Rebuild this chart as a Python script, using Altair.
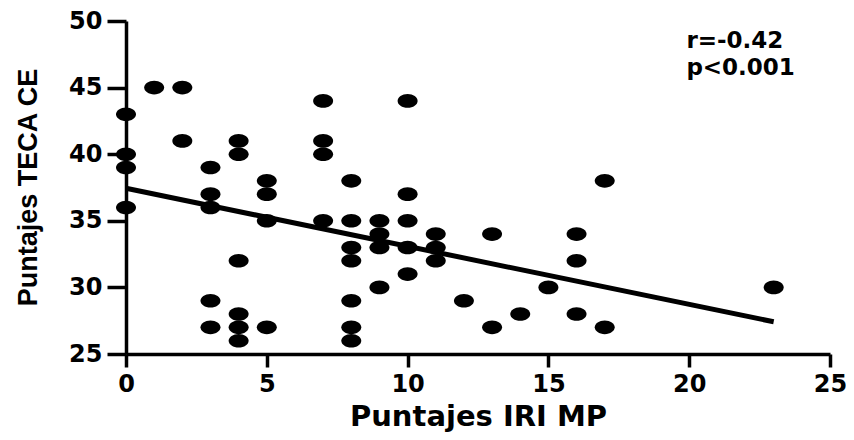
import altair as alt
import pandas as pd

# Scatter data (Puntajes IRI MP vs Puntajes TECA CE)
x_vals = [0, 0, 0, 0, 1, 2, 2, 3, 3, 3, 3, 3, 4, 4, 4, 4, 4, 4, 5, 5, 5, 5,
          7, 7, 7, 7, 8, 8, 8, 8, 8, 8, 8, 9, 9, 9, 9, 10, 10, 10, 10, 10,
          11, 11, 11, 12, 13, 13, 14, 15, 16, 16, 16, 17, 17, 23]
y_vals = [43, 40, 39, 36, 45, 45, 41, 39, 37, 36, 29, 27, 41, 40, 32, 28, 27, 26, 38, 37, 35, 27,
          44, 41, 40, 35, 38, 35, 33, 32, 29, 27, 26, 35, 34, 33, 30, 44, 37, 35, 33, 31,
          34, 33, 32, 29, 34, 27, 28, 30, 34, 32, 28, 38, 27, 30]

# Regression line end points
fit_x = [0, 23]
fit_y = [37.44, 27.42]

# Statistics annotation (two lines)
stats_text = ["r=-0.42", "p<0.001"]
stats_x = [19.9]
stats_y = [48.0]

x_ticks = [0, 5, 10, 15, 20, 25]
y_ticks = [25, 30, 35, 40, 45, 50]

pts = pd.DataFrame({"x": x_vals, "y": y_vals})
fit = pd.DataFrame({"x": fit_x, "y": fit_y})
stats = pd.DataFrame({"x": stats_x, "y": stats_y, "t": ["\n".join(stats_text)]})

xscale = alt.Scale(domain=[0, 25], nice=False, zero=False)
yscale = alt.Scale(domain=[25, 50], nice=False, zero=False)

LABEL_FONT = "DejaVu Sans"

xaxis = alt.Axis(
    title="Puntajes IRI MP", values=x_ticks, format="d", grid=False,
    domainColor="black", domainWidth=3.5, tickColor="black", tickWidth=3.5, tickSize=13,
    labelFont=LABEL_FONT, labelFontWeight="bold", labelFontSize=24, labelColor="black",
    labelPadding=5, labelFlush=False, labelOverlap=False, labelBound=False,
    titleFont=LABEL_FONT, titleFontWeight="bold", titleFontSize=29, titleColor="black",
    titleY=71, titleBaseline="alphabetic",
)
yaxis = alt.Axis(
    title="Puntajes TECA CE", values=y_ticks, format="d", grid=False,
    domainColor="black", domainWidth=3.5, tickColor="black", tickWidth=3.5, tickSize=19,
    labelFont=LABEL_FONT, labelFontWeight="bold", labelFontSize=24, labelColor="black",
    labelPadding=5, labelFlush=False, labelOverlap=False, labelBound=False,
    titleFont="Liberation Sans", titleFontWeight="bold", titleFontSize=27,
    titleColor="black", titleX=-98, titleY=166, titleBaseline="middle", titleAlign="center",
    titleAngle=270,
)

ellipse = "M -1 0 A 1 0.68 0 1 0 1 0 A 1 0.68 0 1 0 -1 0 Z"

points = alt.Chart(pts).mark_point(
    shape=ellipse, filled=True, color="black", size=400, opacity=1, strokeWidth=0, clip=False
).encode(
    x=alt.X("x:Q", scale=xscale, axis=xaxis),
    y=alt.Y("y:Q", scale=yscale, axis=yaxis),
)

line = alt.Chart(fit).mark_line(color="black", strokeWidth=5).encode(
    x=alt.X("x:Q", scale=xscale),
    y=alt.Y("y:Q", scale=yscale),
)

text = alt.Chart(stats).mark_text(
    align="left", baseline="alphabetic", font=LABEL_FONT, fontWeight="bold",
    fontSize=23, color="black", lineBreak="\n", lineHeight=27
).encode(
    x=alt.X("x:Q", scale=xscale),
    y=alt.Y("y:Q", scale=yscale),
    text="t:N",
)

chart = alt.layer(line, points, text).properties(
    width=704, height=333,
    autosize=alt.AutoSizeParams(type="none"),
    padding={"left": 118, "top": 13, "right": 16, "bottom": 78},
    background="white",
).configure_view(strokeWidth=0)

chart.save("out.html", embed_options={"renderer": "svg", "actions": False})
